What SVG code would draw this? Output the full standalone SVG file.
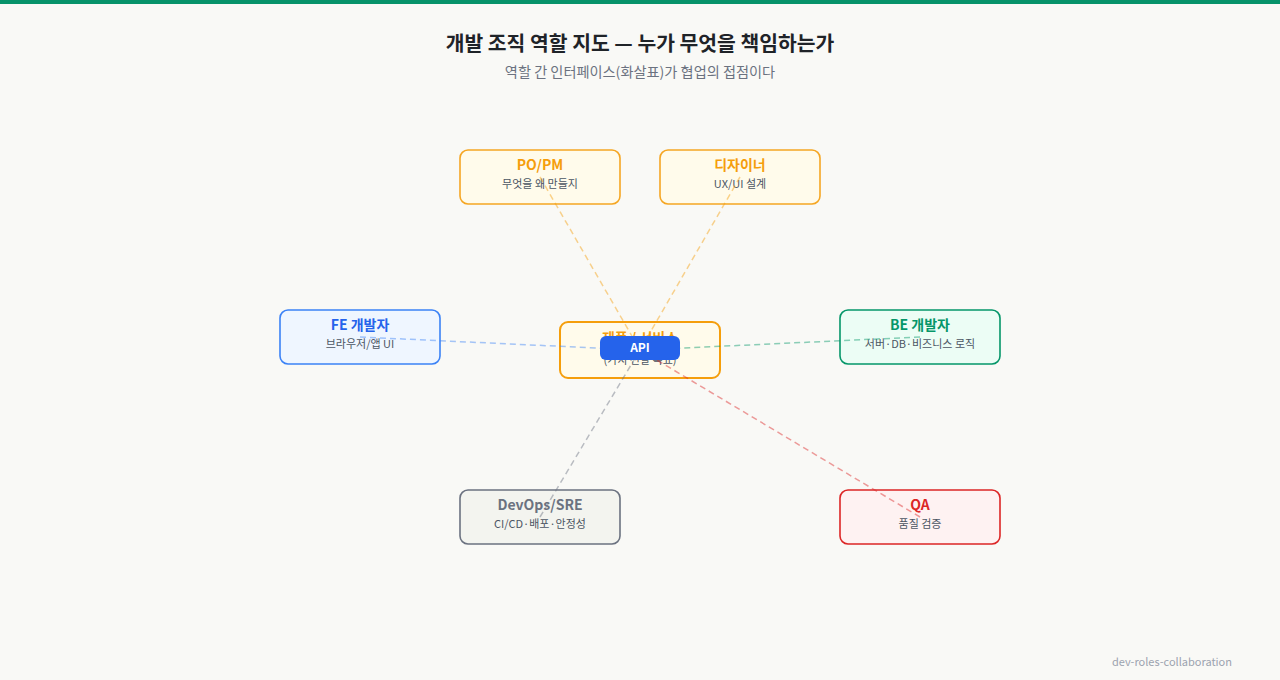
<svg xmlns="http://www.w3.org/2000/svg" width="1280" height="680" viewBox="0 0 1280 680">
<style>
text{font-family:"Noto Sans CJK KR","Noto Sans",sans-serif}
.t{font-size:20.4px;font-weight:700;fill:#1f2328;text-anchor:middle}
.st{font-size:14.2px;fill:#6b7280;text-anchor:middle}
.nt{font-size:14px;font-weight:700;text-anchor:middle}
.ns{font-size:11px;fill:#4b5563;text-anchor:middle}
.box{stroke-width:1.6}
.c{stroke-width:1.5;stroke-dasharray:6 4;fill:none;opacity:0.45}
</style>
<rect width="1280" height="680" fill="#f9f9f6"/>
<rect width="1280" height="4" fill="#07936a"/>
<text class="t" x="640" y="51">개발 조직 역할 지도 — 누가 무엇을 책임하는가</text>
<text class="st" x="640" y="77">역할 간 인터페이스(화살표)가 협업의 접점이다</text>

<g id="center">
<rect x="560" y="322" width="160" height="56" rx="8" fill="#fffbeb" stroke="#f59e0b" stroke-width="2"/>
<text class="nt" x="640" y="343" fill="#f59e0b">제품 / 서비스</text>
<text class="ns" x="640" y="364">(가치 전달 목표)</text>
</g>
<g id="popm">
<rect class="box" x="460" y="150" width="160" height="54" rx="8" fill="#fffbeb" stroke="#f5a623"/>
<text class="nt" x="540" y="170" fill="#f59e0b">PO/PM</text>
<text class="ns" x="540" y="188">무엇을 왜 만들지</text>
</g>
<g id="designer">
<rect class="box" x="660" y="150" width="160" height="54" rx="8" fill="#fffbeb" stroke="#f5a623"/>
<text class="nt" x="740" y="170" fill="#f59e0b">디자이너</text>
<text class="ns" x="740" y="188">UX/UI 설계</text>
</g>
<g id="fe">
<rect class="box" x="280" y="310" width="160" height="54" rx="8" fill="#eff6ff" stroke="#3b82f6"/>
<text class="nt" x="360" y="330" fill="#2563eb">FE 개발자</text>
<text class="ns" x="360" y="348">브라우저/앱 UI</text>
</g>
<g id="be">
<rect class="box" x="840" y="310" width="160" height="54" rx="8" fill="#ecfdf5" stroke="#059669"/>
<text class="nt" x="920" y="330" fill="#059669">BE 개발자</text>
<text class="ns" x="920" y="348">서버·DB·비즈니스 로직</text>
</g>
<g id="devops">
<rect class="box" x="460" y="490" width="160" height="54" rx="8" fill="#f3f4ef" stroke="#6b7280"/>
<text class="nt" x="540" y="510" fill="#6b7280">DevOps/SRE</text>
<text class="ns" x="540" y="528">CI/CD·배포·안정성</text>
</g>
<g id="qa">
<rect class="box" x="840" y="490" width="160" height="54" rx="8" fill="#fef2f2" stroke="#dc2626"/>
<text class="nt" x="920" y="510" fill="#dc2626">QA</text>
<text class="ns" x="920" y="528">품질 검증</text>
</g>

<g id="connectors">
<line class="c" x1="540" y1="177" x2="640" y2="350" stroke="#f59e0b"/>
<line class="c" x1="740" y1="177" x2="640" y2="350" stroke="#f59e0b"/>
<line class="c" x1="360" y1="337" x2="640" y2="350" stroke="#3b82f6"/>
<line class="c" x1="920" y1="337" x2="640" y2="350" stroke="#059669"/>
<line class="c" x1="540" y1="517" x2="640" y2="350" stroke="#6b7280"/>
<line class="c" x1="920" y1="517" x2="640" y2="350" stroke="#dc2626"/>
</g>

<g id="api">
<rect x="600" y="336" width="80" height="24" rx="6" fill="#2563eb"/>
<text x="640" y="352" font-size="12" font-weight="700" fill="#ffffff" text-anchor="middle">API</text>
</g>

<text x="1232" y="666" font-size="11" fill="#9ca3af" text-anchor="end">dev-roles-collaboration</text>
</svg>
